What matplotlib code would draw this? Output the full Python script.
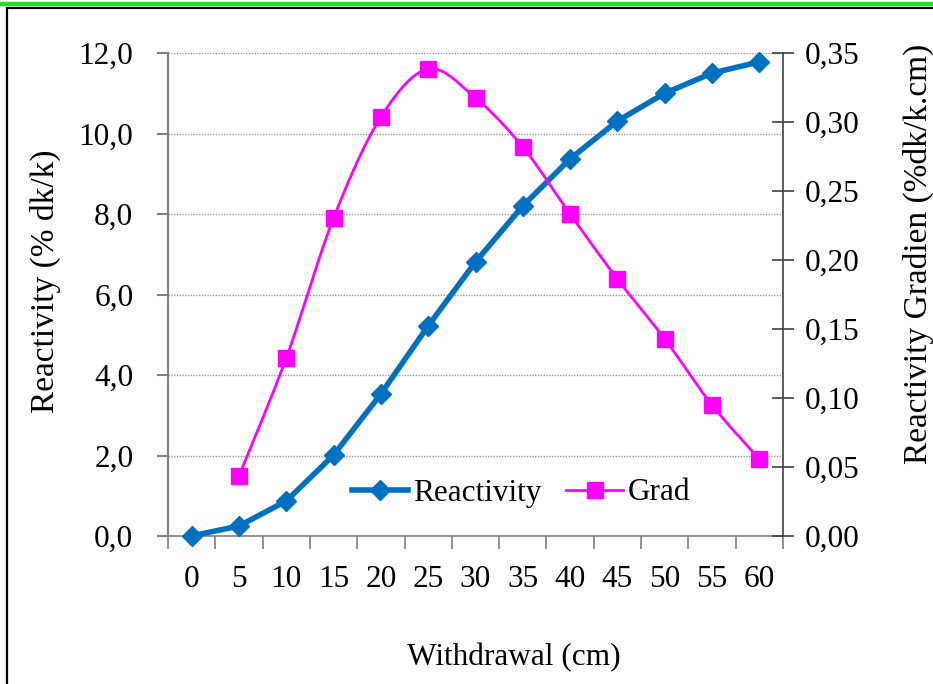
import matplotlib
matplotlib.use("Agg")
import matplotlib.pyplot as plt
import numpy as np
from matplotlib.lines import Line2D
from matplotlib.patches import Rectangle
from matplotlib.ticker import FuncFormatter

plt.rcParams['font.family'] = ['Liberation Serif', 'DejaVu Serif']

withdrawal = [0, 5, 10, 15, 20, 25, 30, 35, 40, 45, 50, 55, 60]
reactivity = [0.0, 0.25, 0.87, 2.01, 3.53, 5.22, 6.81, 8.20, 9.37, 10.31, 11.0, 11.5, 11.78]
grad_x = [5, 10, 15, 20, 25, 30, 35, 40, 45, 50, 55, 60]
grad = [0.0435, 0.129, 0.2304, 0.3036, 0.3384, 0.3174, 0.2819, 0.2333,
        0.1862, 0.1428, 0.0949, 0.0558]

BLUE = '#0070C0'
MAGENTA = '#FF00FF'
FS = 22.5


def smooth(x, y, n=20):
    # Catmull-Rom style bezier like Excel's smoothed line
    x = np.asarray(x, float)
    y = np.asarray(y, float)
    px = np.concatenate([[x[0]], x, [x[-1]]])
    py = np.concatenate([[y[0]], y, [y[-1]]])
    xs, ys = [], []
    t = np.linspace(0, 1, n)
    for i in range(1, len(px) - 2):
        p0 = np.array([px[i], py[i]])
        p3 = np.array([px[i + 1], py[i + 1]])
        c1 = p0 + (p3 - np.array([px[i - 1], py[i - 1]])) / 6
        c2 = p3 - (np.array([px[i + 2], py[i + 2]]) - p0) / 6
        b = ((1 - t) ** 3)[:, None] * p0 + (3 * (1 - t) ** 2 * t)[:, None] * c1 \
            + (3 * (1 - t) * t ** 2)[:, None] * c2 + (t ** 3)[:, None] * p3
        xs.extend(b[:, 0])
        ys.extend(b[:, 1])
    return xs, ys


fig = plt.figure(figsize=(9.33, 6.84), dpi=100)
fig.patches.append(Rectangle((0, 1 - 5 / 684), 1, 3 / 684, transform=fig.transFigure,
                             color='#22DD22', zorder=0))
fig.patches.append(Rectangle((7 / 933, -0.1), 1.2, 1 - 8 / 684 + 0.1, transform=fig.transFigure,
                             fill=False, edgecolor='black', linewidth=1.6, zorder=0))

ax = fig.add_axes([168 / 933, 1 - 536 / 684, 615 / 933, 483 / 684])
ax2 = ax.twinx()

ax.set_xlim(-2.5, 62.5)
ax.set_ylim(0, 12)
ax2.set_ylim(0, 0.35)

ax.set_yticks(np.arange(0, 12.1, 2))
ax.yaxis.grid(True, linestyle=(0, (1, 1)), color='#999999', linewidth=1)
ax.set_axisbelow(True)
ax.yaxis.set_major_formatter(FuncFormatter(lambda v, p: f"{v:.1f}".replace('.', ',')))
ax2.set_yticks(np.arange(0, 0.351, 0.05))
ax2.yaxis.set_major_formatter(FuncFormatter(lambda v, p: f"{v:.2f}".replace('.', ',')))

ax.set_xticks(withdrawal)
ax.set_xticks(np.arange(-2.5, 63, 5), minor=True)
ax.tick_params(axis='x', which='major', length=0, pad=21, labelsize=FS)
ax.tick_params(axis='x', which='minor', length=9, width=1.2, color='#808080', direction='out')
ax.tick_params(axis='y', length=8, width=1.5, color='#808080', pad=17, labelsize=FS)
ax2.tick_params(axis='y', length=16, width=1.2, color='#404040', direction='inout', pad=8,
                labelsize=FS)

for a in (ax, ax2):
    a.spines['top'].set_visible(False)
ax.spines['left'].set_color('#808080')
ax.spines['left'].set_linewidth(1.5)
ax.spines['bottom'].set_color('#808080')
ax.spines['bottom'].set_linewidth(1.2)
ax.spines['right'].set_visible(False)
ax2.spines['left'].set_visible(False)
ax2.spines['bottom'].set_visible(False)
ax2.spines['right'].set_color('#404040')
ax2.spines['right'].set_linewidth(1.2)

ax.plot(withdrawal, reactivity, color=BLUE, linewidth=4, marker='D', markersize=10,
        clip_on=False, zorder=3)
sx, sy = smooth(grad_x, grad)
ax2.plot(sx, sy, color=MAGENTA, linewidth=2, zorder=3)
ax2.plot(grad_x, grad, linestyle='none', color=MAGENTA, marker='s', markersize=12, zorder=4)

fig.text(45 / 933, 1 - 281 / 684, 'Reactivity (% dk/k)', fontsize=24, rotation=90,
         ha='center', va='center')
fig.text(918 / 933, 1 - 254 / 684, 'Reactivity Gradien (%dk/k.cm)', fontsize=24, rotation=90,
         ha='center', va='center')
fig.text(514 / 933, 1 - 658 / 684, 'Withdrawal (cm)', fontsize=FS, ha='center', va='center')

handles = [Line2D([], [], color=BLUE, linewidth=4, marker='D', markersize=10),
           Line2D([], [], color=MAGENTA, linewidth=2, marker='s', markersize=11)]
ax2.legend(handles, ['Reactivity', 'Grad'], loc='center', bbox_to_anchor=(521 / 933, 1 - 493 / 684),
           bbox_transform=fig.transFigure, frameon=False, fontsize=FS, ncol=2,
           handlelength=1.8, handletextpad=0.15, columnspacing=0.8, borderaxespad=0)

fig.savefig('out.png', dpi=100)
